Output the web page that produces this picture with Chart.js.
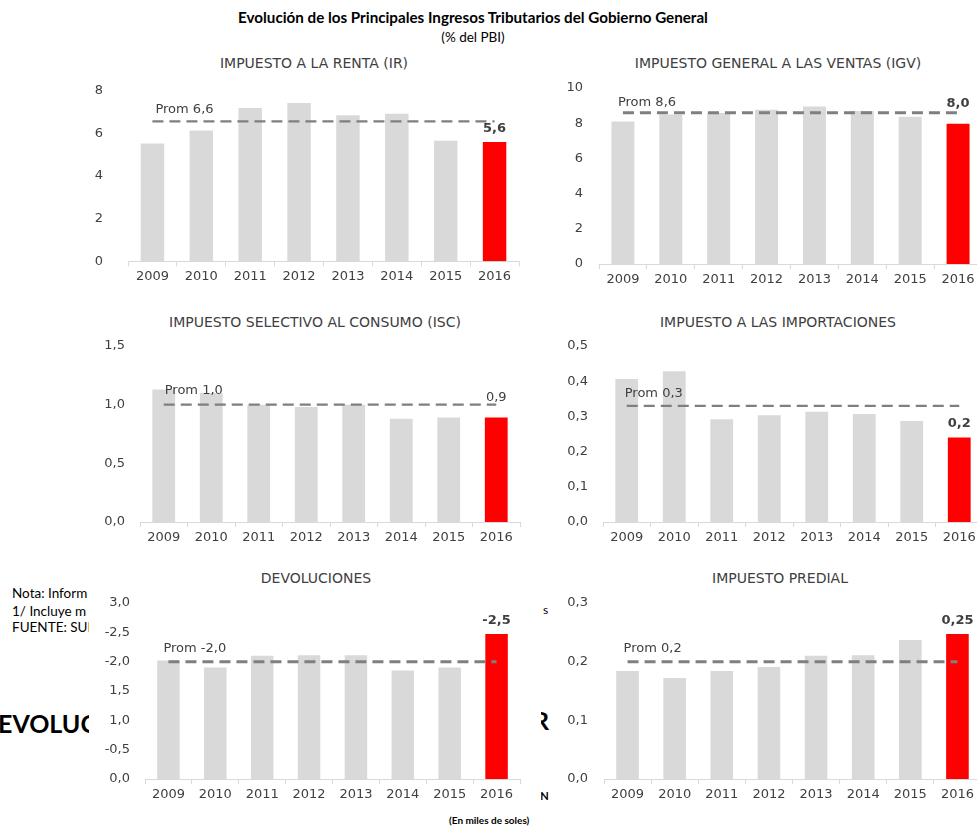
<!DOCTYPE html>
<html>
<head>
<meta charset="utf-8">
<script src="https://cdn.jsdelivr.net/npm/chart.js@4/dist/chart.umd.min.js"></script>
<style>
  html, body { margin:0; padding:0; background:#fff; }
  body { width:977px; height:827px; overflow:hidden; position:relative; font-family:"DejaVu Sans", sans-serif; }
  .t { position:absolute; white-space:nowrap; }
  .ctr { text-align:center; width:500px; }
  .main { font:bold 15.2px/18px Lato, sans-serif; color:#000; }
  .sub { font:13.5px/16px Lato, sans-serif; color:#000; }
  .ptitle { font:14px/16px "DejaVu Sans", sans-serif; color:#404040; }
  canvas { position:absolute; }
  .clip { position:absolute; overflow:hidden; }
  .note { position:absolute; white-space:nowrap; font:13.5px/16px Lato, sans-serif; color:#000; }
  .big { position:absolute; white-space:nowrap; font:bold 25px/28px Lato, sans-serif; color:#000; }
</style>
</head>
<body>

<!-- notes sitting behind the lower-left panel -->
<div class="clip" style="left:0; top:580px; width:89px; height:160px;">
  <div class="note" style="left:12px; top:5px;">Nota: Inform</div>
  <div class="note" style="left:12px; top:23px;">1/ Incluye m</div>
  <div class="note" style="left:12px; top:39px;">FUENTE: SUN</div>
  <div class="big" style="left:-2px; top:129px;">EVOLUC</div>
</div>
<div class="clip" style="left:541px; top:595px; width:11px; height:215px;">
  <div class="note" style="left:2px; top:7px; font-size:12px;">s</div>
  <div class="big" style="left:-8px; top:111px;">R</div>
  <div class="note" style="left:-4px; top:194px; font:bold 11px/14px Lato, sans-serif;">IN</div>
</div>
<div class="t" style="left:449px; top:813px; font:bold 10px/14px Lato, sans-serif; color:#000;">(En miles de soles)</div>

<div class="t ctr main" style="left:223px; top:8px;">Evolución de los Principales Ingresos Tributarios del Gobierno General</div>
<div class="t ctr sub" style="left:223px; top:29px;">(% del PBI)</div>

<div class="t ctr ptitle" style="left:64px;  top:55px;">IMPUESTO A LA RENTA (IR)</div>
<div class="t ctr ptitle" style="left:528px; top:55px;">IMPUESTO GENERAL A LAS VENTAS (IGV)</div>
<div class="t ctr ptitle" style="left:65px;  top:314px;">IMPUESTO SELECTIVO AL CONSUMO (ISC)</div>
<div class="t ctr ptitle" style="left:528px; top:314px;">IMPUESTO A LAS IMPORTACIONES</div>
<div class="t ctr ptitle" style="left:66px;  top:570px;">DEVOLUCIONES</div>
<div class="t ctr ptitle" style="left:530px; top:570px;">IMPUESTO PREDIAL</div>

<canvas id="cRenta"></canvas>
<canvas id="cIgv"></canvas>
<canvas id="cIsc"></canvas>
<canvas id="cImport"></canvas>
<canvas id="cDevol"></canvas>
<canvas id="cPredial"></canvas>

<script>
// Categories
const years = ['2009', '2010', '2011', '2012', '2013', '2014', '2015', '2016'];

// Series (% del PBI)
const rentaVals   = [5.53, 6.14, 7.19, 7.43, 6.85, 6.92, 5.65, 5.6];
const igvVals     = [8.1, 8.5, 8.58, 8.76, 8.95, 8.7, 8.36, 7.97];
const iscVals     = [1.13, 1.1, 1.0, 0.98, 1.0, 0.88, 0.89, 0.89];
const importVals  = [0.406, 0.428, 0.292, 0.303, 0.313, 0.307, 0.287, 0.24];
const devolVals   = [-2.02, -1.90, -2.10, -2.11, -2.11, -1.85, -1.90, -2.47];
const predialVals = [0.184, 0.172, 0.184, 0.191, 0.210, 0.211, 0.237, 0.247];

// Period averages
const rentaProm   = 6.56;
const igvProm     = 8.6;
const iscProm     = 1.0;
const importProm  = 0.33;
const devolProm   = -2.0;
const predialProm = 0.2;

// Tick labels of the refunds axis, from 0 upwards in steps of 0,5
const devolTickLabels = ['0,0', '-0,5', '1,0', '1,5', '-2,0', '-2,5', '3,0'];

const fmt = (v, d) => v.toFixed(d).replace('.', ',');

const GRAY = '#d9d9d9', RED = '#ff0000', TXT = '#404040';
const YW = 90, TP = 30, XH = 30, RP = 10;

// Average caption over the dashed line and value caption over the last bar
const promLabels = {
  id: 'promLabels',
  afterDatasetsDraw(chart, args, o) {
    const ctx = chart.ctx, x = chart.scales.x, y = chart.scales.y;
    const prom = chart.data.datasets[0].data[0];
    const vals = chart.data.datasets[1].data;
    const n = vals.length;
    ctx.save();
    ctx.fillStyle = TXT;
    ctx.textBaseline = 'middle';
    ctx.font = '13px "DejaVu Sans"';
    ctx.textAlign = 'left';
    ctx.fillText('Prom ' + fmt(prom, 1), x.getPixelForValue(0) + o.promDx, y.getPixelForValue(prom) - o.promDy);
    ctx.font = (o.bold ? 'bold ' : '') + '13px "DejaVu Sans"';
    ctx.textAlign = 'center';
    ctx.fillText(fmt(vals[n - 1], o.dec), x.getPixelForValue(n - 1), y.getPixelForValue(vals[n - 1]) - o.valDy);
    ctx.restore();
  }
};

function panel(id, box, vals, prom, ax, lab) {
  const cv = document.getElementById(id);
  cv.width = box.R - box.L + YW + RP;
  cv.height = box.B - box.T + TP + XH;
  cv.style.left = (box.L - YW) + 'px';
  cv.style.top = (box.T - TP) + 'px';
  new Chart(cv, {
    type: 'bar',
    data: {
      labels: years,
      datasets: [
        { type: 'line', data: years.map(() => prom), borderColor: '#7f7f7f', borderWidth: lab.lw,
          borderDash: [11, 6], pointRadius: 0, fill: false, order: 1 },
        { type: 'bar', data: vals, backgroundColor: vals.map((v, i) => i === vals.length - 1 ? RED : GRAY),
          categoryPercentage: 1, barPercentage: 0.48, order: 2 }
      ]
    },
    options: {
      responsive: false,
      animation: false,
      layout: { padding: { top: TP, right: RP, bottom: 0, left: 0 } },
      plugins: {
        legend: { display: false },
        tooltip: { enabled: false },
        promLabels: lab
      },
      scales: {
        x: {
          grid: { offset: true, drawOnChartArea: false, drawTicks: true, tickLength: 5, color: GRAY },
          border: { color: GRAY, width: 1 },
          ticks: { font: { family: 'DejaVu Sans', size: 13 }, color: TXT, padding: 3, maxRotation: 0, autoSkip: false },
          afterFit(s) { s.height = XH; }
        },
        y: {
          min: ax.min, max: ax.max, reverse: !!ax.reverse,
          grid: { display: false, drawTicks: false },
          border: { display: false },
          ticks: { stepSize: ax.step, padding: ax.pad, font: { family: 'DejaVu Sans', size: 13 }, color: TXT, callback: ax.cb },
          afterFit(s) { s.width = YW; }
        }
      }
    },
    plugins: [promLabels]
  });
}

panel('cRenta', { L: 128, R: 519, T: 88, B: 264 }, rentaVals, rentaProm,
  { min: 0, max: 8, step: 2, pad: 25, cb: v => fmt(v, 0) },
  { lw: 2.2, promDx: 3, promDy: 12, valDy: 13, dec: 1, bold: true });

panel('cIgv', { L: 599, R: 982, T: 88, B: 264 }, igvVals, igvProm,
  { min: 0, max: 10, step: 2, pad: 16, cb: v => fmt(v, 0) },
  { lw: 3, promDx: -5, promDy: 10, valDy: 20, dec: 1, bold: true });

panel('cIsc', { L: 140, R: 520, T: 346, B: 522 }, iscVals, iscProm,
  { min: 0, max: 1.5, step: 0.5, pad: 15, cb: v => fmt(v, 1) },
  { lw: 2.2, promDx: 1, promDy: 14, valDy: 20, dec: 1, bold: false });

panel('cImport', { L: 603, R: 983, T: 346, B: 522 }, importVals, importProm,
  { min: 0, max: 0.5, step: 0.1, pad: 15, cb: v => fmt(v, 1) },
  { lw: 2.2, promDx: -2, promDy: 12, valDy: 14, dec: 1, bold: true });

panel('cDevol', { L: 145, R: 520, T: 603, B: 779 }, devolVals, devolProm,
  { min: -3, max: 0, step: 0.5, pad: 15, reverse: true, cb: v => devolTickLabels[Math.round(-v * 2)] },
  { lw: 3, promDx: -5, promDy: 13, valDy: 13, dec: 1, bold: true });

panel('cPredial', { L: 604, R: 981, T: 603, B: 779 }, predialVals, predialProm,
  { min: 0, max: 0.3, step: 0.1, pad: 16, cb: v => fmt(v, 1) },
  { lw: 3, promDx: -4, promDy: 13, valDy: 13, dec: 2, bold: true });
</script>
</body>
</html>
